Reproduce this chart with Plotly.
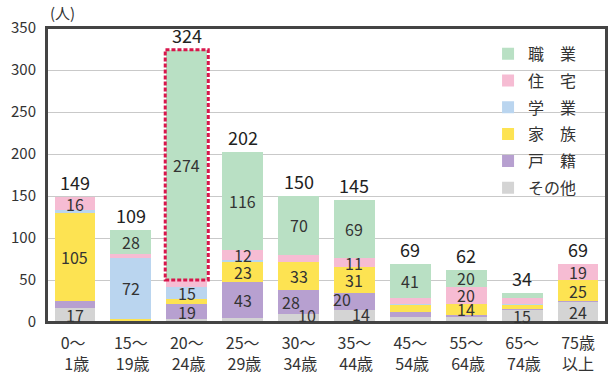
import plotly.graph_objects as go

# ---------------- data ----------------
tick_labels = ["0～\u00a0<br>\u00a01歳", "15～<br>\u00a019歳", "20～<br>\u00a024歳", "25～<br>\u00a029歳",
               "30～<br>\u00a034歳", "35～<br>\u00a044歳", "45～<br>\u00a054歳", "55～<br>\u00a064歳",
               "65～<br>\u00a074歳", "75歳<br>以上"]
series_names = ["その他", "戸　籍", "家　族", "学　業", "住　宅", "職　業"]  # bottom -> top

other    = [17, 1, 3, 5, 10, 14, 6, 6, 15, 24]
koseki   = [8, 1, 19, 43, 28, 20, 6, 2, 1, 1]
kazoku   = [105, 2, 5, 23, 33, 31, 9, 14, 5, 25]
gakugyo  = [3, 72, 15, 3, 0, 0, 1, 0, 1, 0]
jutaku   = [16, 5, 8, 12, 9, 11, 6, 20, 6, 19]
shokugyo = [0, 28, 274, 116, 70, 69, 41, 20, 6, 0]
totals   = [149, 109, 324, 202, 150, 145, 69, 62, 34, 69]

other_lbl    = ["17", "", "", "", "10", "14", "", "", "15", "24"]
koseki_lbl   = ["", "", "19", "43", "28", "20", "", "", "", ""]
kazoku_lbl   = ["105", "", "", "23", "33", "31", "", "14", "", "25"]
gakugyo_lbl  = ["", "72", "15", "", "", "", "", "", "", ""]
jutaku_lbl   = ["16", "", "", "12", "", "11", "", "20", "", "19"]
shokugyo_lbl = ["", "28", "274", "116", "70", "69", "41", "20", "", ""]

highlight_index = 2  # 20～24歳 job segment is highlighted

# ---------------- style ----------------
colors = ["#d4d4d4", "#b7a0d0", "#fde352", "#bad5ef", "#f6bcd3", "#b9e0c4"]
FONT = "Noto Sans CJK JP, Noto Sans, sans-serif"
label_offsets = {(0, 4): (8, 3), (0, 5): (7, 2), (1, 4): (-8, 0), (1, 5): (-12, 3)}
BARGAP = 0.27

values = [other, koseki, kazoku, gakugyo, jutaku, shokugyo]
labels = [other_lbl, koseki_lbl, kazoku_lbl, gakugyo_lbl, jutaku_lbl, shokugyo_lbl]
x = list(range(len(tick_labels)))

fig = go.Figure()
for k, (name, vals) in enumerate(zip(series_names, values)):
    fig.add_trace(go.Bar(
        x=x, y=vals, name=name, marker=dict(color=colors[k], line=dict(width=0)),
        legendgroup=name, legendrank=100 - k, hoverinfo="skip",
    ))

annotations = []
base = [0] * len(x)
bases = []
for k, vals in enumerate(values):
    bases.append(list(base))
    for i, v in enumerate(vals):
        lab = labels[k][i]
        if lab:
            dx, dy = label_offsets.get((k, i), (0, 0))
            annotations.append(dict(x=i, y=base[i] + v / 2, text=lab, showarrow=False,
                                    xshift=dx, yshift=dy,
                                    font=dict(size=16, color="#333333", family=FONT)))
        base[i] += v

for i, t in enumerate(totals):
    annotations.append(dict(x=i, y=t, text=str(t), showarrow=False, yanchor="bottom",
                            yshift=0, font=dict(size=18, color="#222222", family=FONT)))

annotations.append(dict(xref="paper", yref="paper", x=0.0, y=1.0, xanchor="left", yanchor="bottom",
                        xshift=1, yshift=3, text="(人)", showarrow=False,
                        font=dict(size=15, color="#333333", family=FONT)))

half = (1 - BARGAP) / 2 + 0.02
h = highlight_index
shapes = [
    # white backdrop behind legend
    dict(type="rect", xref="x domain", yref="y", x0=0.768, x1=0.995, y0=107, y1=348,
         fillcolor="white", line=dict(width=0), layer="below"),
    # plot frame
    dict(type="rect", xref="paper", yref="paper", x0=0, x1=1, y0=0, y1=1,
         line=dict(color="#444444", width=2), fillcolor="rgba(0,0,0,0)", layer="above"),
    # red dashed highlight
    dict(type="rect", xref="x", yref="y", x0=h - half, x1=h + half,
         y0=bases[5][h], y1=bases[5][h] + shokugyo[h],
         line=dict(color="#d8164c", width=3, dash="4px,2px"), fillcolor="rgba(0,0,0,0)", layer="above"),
]

fig.update_layout(
    width=611, height=374,
    margin=dict(l=47, r=5, t=28, b=52),
    barmode="stack", bargap=BARGAP,
    plot_bgcolor="white", paper_bgcolor="white",
    font=dict(family=FONT, color="#333333"),
    showlegend=True,
    legend=dict(x=0.789, y=0.97, xanchor="left", yanchor="top",
                traceorder="grouped", tracegroupgap=3,
                bgcolor="rgba(0,0,0,0)", borderwidth=0,
                font=dict(size=16, color="#333333", family=FONT)),
    annotations=annotations,
    shapes=shapes,
)
fig.update_xaxes(range=[-0.5, len(x) - 0.5], tickmode="array", tickvals=x, ticktext=tick_labels,
                 showline=True, mirror=True, linecolor="#444444", linewidth=2, automargin=False,
                 showgrid=False, zeroline=False, ticks="", ticklabelstandoff=6,
                 tickfont=dict(size=16, color="#333333", family=FONT))
fig.update_yaxes(range=[0, 350], dtick=50, tick0=0, automargin=False,
                 showline=True, mirror=True, linecolor="#444444", linewidth=2,
                 showgrid=True, gridcolor="#c9c9c9", gridwidth=1.2, zeroline=False,
                 ticks="", ticklabelstandoff=6,
                 tickfont=dict(size=15, color="#333333", family=FONT))

fig.write_html("out.html")
